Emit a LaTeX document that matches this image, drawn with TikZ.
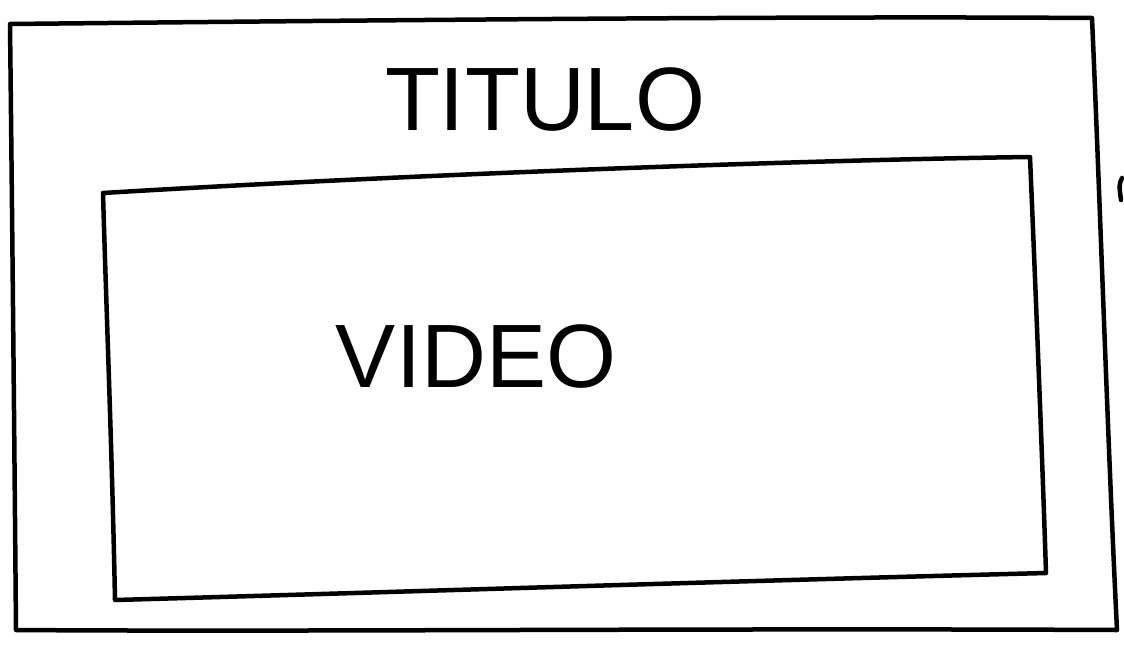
\documentclass[tikz,border=0pt]{standalone}
\usepackage{fontspec}
\setmainfont{Liberation Sans}
\begin{document}
\begin{tikzpicture}[x=1pt,y=-1pt,
  sketch/.style={line width=4.5pt,line join=round,line cap=round,black},
  label/.style={font=\fontsize{90}{90}\selectfont,inner sep=0pt}]
\useasboundingbox (0,0) rectangle (1124,653);
\draw[sketch] (10,24) .. controls (400,20) and (800,16) .. (1092,18)
  .. controls (1100,200) and (1108,450) .. (1117,630)
  .. controls (700,628) and (300,632) .. (16,630)
  .. controls (14,400) and (12,200) .. (10,24) -- cycle;
\draw[sketch] (103,193) .. controls (400,175) and (800,160) .. (1030,157)
  .. controls (1036,300) and (1042,450) .. (1046,573)
  .. controls (700,582) and (400,592) .. (115,600)
  .. controls (112,450) and (106,300) .. (103,193) -- cycle;
\draw[sketch] (1122,178) .. controls (1119,185) .. (1121,200);
\node[label] (titulo) at (545,100) {TITULO};
\node[label] (video) at (476,357) {VIDEO};
\end{tikzpicture}
\end{document}
